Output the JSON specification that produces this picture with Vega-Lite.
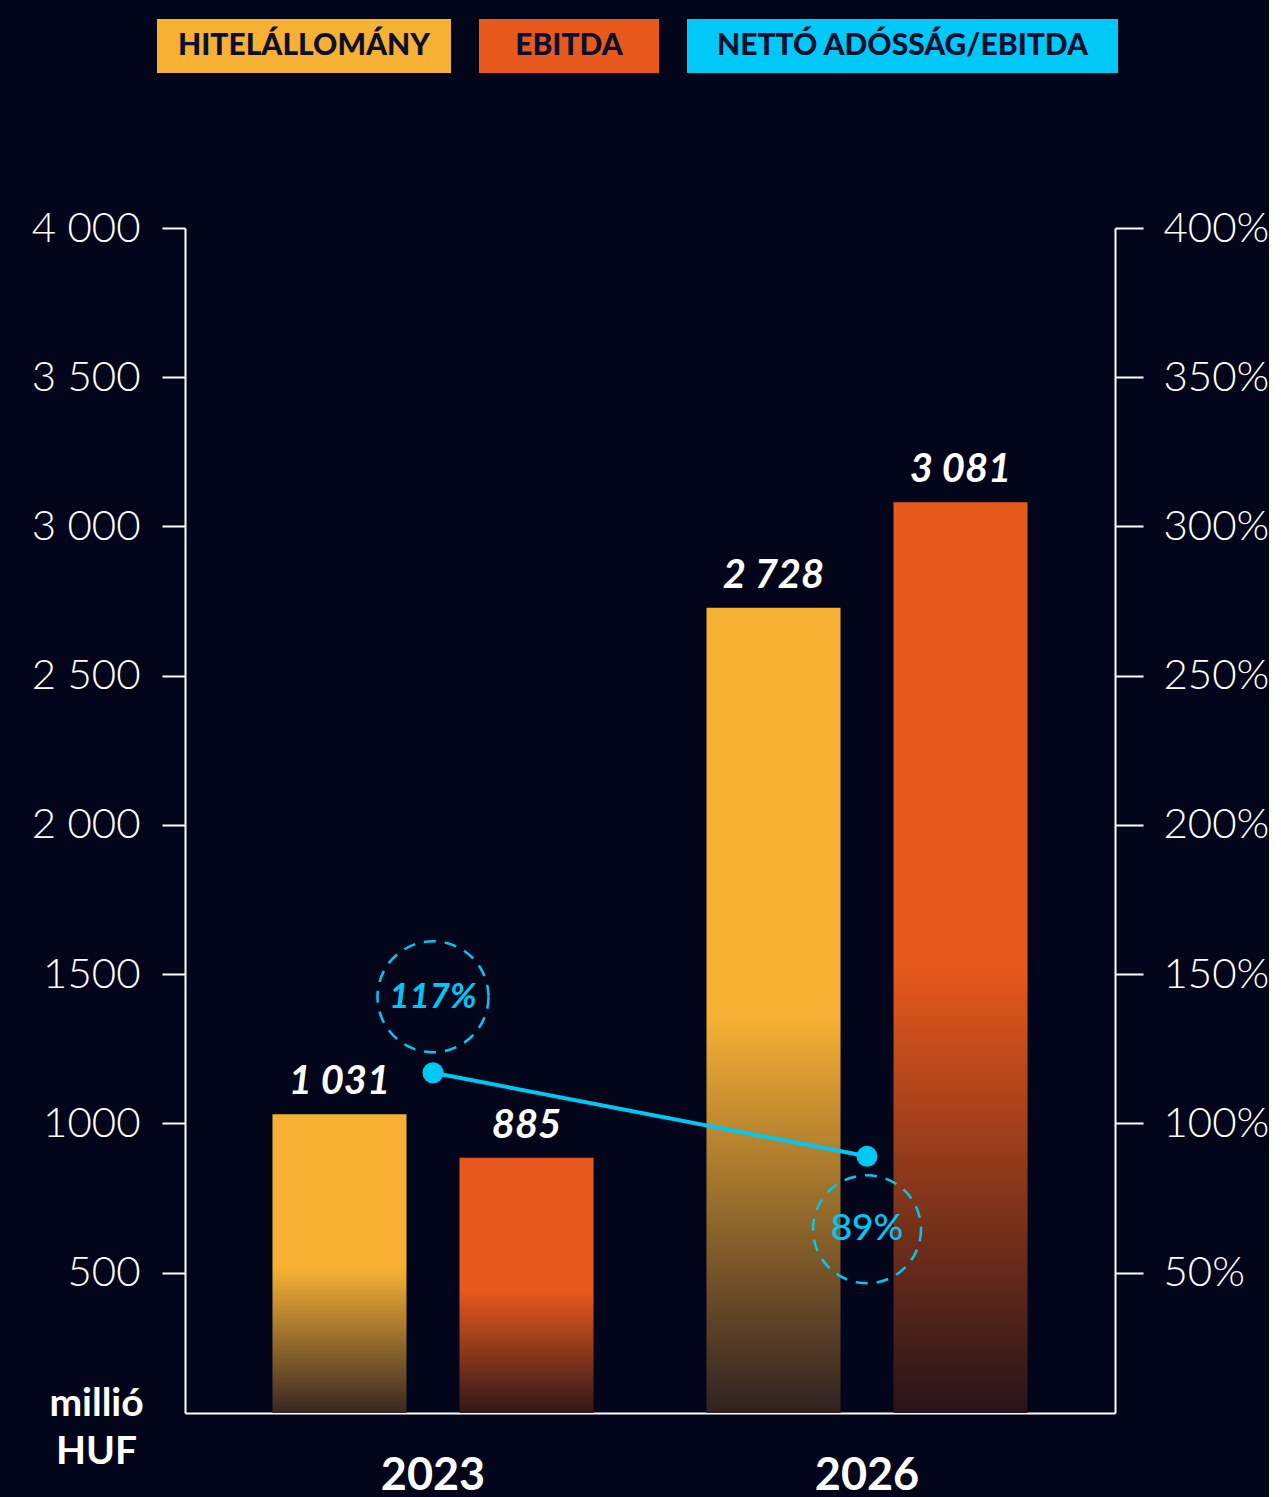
{
  "$schema": "https://vega.github.io/schema/vega-lite/v6.json",
  "background": "#03061A",
  "padding": {"top": 19, "left": 10, "right": 0, "bottom": 0},
  "config": {
    "view": {"stroke": null},
    "font": "Lato",
    "locale": {"number": {"decimal": ",", "thousands": " ", "grouping": [3], "currency": ["", ""]}}
  },
  "datasets": {
    "bars": [
      {"year": "2023", "series": "HITELÁLLOMÁNY", "value": 1031},
      {"year": "2023", "series": "EBITDA", "value": 885},
      {"year": "2026", "series": "HITELÁLLOMÁNY", "value": 2728},
      {"year": "2026", "series": "EBITDA", "value": 3081}
    ],
    "ratio": [
      {"year": "2023", "ratio": 1.17},
      {"year": "2026", "ratio": 0.89}
    ]
  },
  "spacing": 134,
  "vconcat": [
    {
      "spacing": 28,
      "hconcat": [
        {"width": 119, "height": 54, "data": {"values": [{"label": ""}]}, "mark": {"type": "text"}, "encoding": {"text": {"field": "label"}}},
        {"width": 294, "height": 54, "view": {"fill": "#F6B134", "stroke": null}, "data": {"values": [{"label": "HITELÁLLOMÁNY"}]}, "mark": {"type": "text", "font": "Lato", "fontSize": 30, "fontWeight": 900, "color": "#0B1030"}, "encoding": {"text": {"field": "label"}}},
        {"width": 180, "height": 54, "view": {"fill": "#E8591D", "stroke": null}, "data": {"values": [{"label": "EBITDA"}]}, "mark": {"type": "text", "font": "Lato", "fontSize": 30, "fontWeight": 900, "color": "#0B1030"}, "encoding": {"text": {"field": "label"}}},
        {"width": 431, "height": 54, "view": {"fill": "#00C9F8", "stroke": null}, "data": {"values": [{"label": "NETTÓ ADÓSSÁG/EBITDA"}]}, "mark": {"type": "text", "font": "Lato", "fontSize": 30, "fontWeight": 900, "color": "#0B1030"}, "encoding": {"text": {"field": "label"}}}
      ]
    },
    {
      "spacing": 20,
      "hconcat": [
        {"width": 1, "height": 10, "data": {"values": [{"label": ""}]}, "mark": {"type": "text"}, "encoding": {"text": {"field": "label"}}},
        {
          "width": 930,
          "height": 1185,
          "encoding": {
            "x": {"field": "year", "type": "nominal", "title": null,
              "scale": {"paddingInner": 0, "paddingOuter": 0.0714},
              "axis": {"orient": "bottom", "domainColor": "#FFFFFF", "domainWidth": 2, "ticks": false, "labelColor": "#FFFFFF", "labelFont": "Lato", "labelFontSize": 45, "labelFontWeight": "bold", "labelAngle": 0, "labelPadding": 40, "grid": false}}
          },
          "layer": [
            {
              "data": {"name": "bars"},
              "encoding": {
                "y": {"field": "value", "type": "quantitative",
                  "scale": {"domain": [30, 4000], "zero": false, "nice": false},
                  "axis": {"orient": "left", "values": [500, 1000, 1500, 2000, 2500, 3000, 3500, 4000],
                    "labelExpr": "datum.value < 2000 ? format(datum.value, 'd') : format(datum.value, ',')",
                    "domainColor": "#FFFFFF", "domainWidth": 2, "tickColor": "#FFFFFF", "tickWidth": 2, "tickSize": 23,
                    "labelColor": "#FFFFFF", "labelFont": "Lato", "labelFontSize": 42, "labelFontWeight": 300, "labelPadding": 22,
                    "grid": false, "labelFlush": false, "labelOverlap": false,
                    "title": ["millió", "HUF"], "titleAngle": 0, "titleX": -89, "titleY": 1187, "titleAlign": "center", "titleBaseline": "alphabetic",
                    "titleFont": "Lato", "titleFontSize": 39, "titleFontWeight": "bold", "titleColor": "#FFFFFF", "titleLineHeight": 48}}
              },
              "layer": [
                {
                  "data": {"values": [{"year": "2026"}]},
                  "mark": {"type": "rule", "color": "#FFFFFF", "strokeWidth": 2, "strokeDash": [26, 27]},
                  "encoding": {
                    "x": {"field": "year", "type": "nominal", "bandPosition": 0, "title": null,
                      "axis": {"orient": "bottom", "domainColor": "#FFFFFF", "domainWidth": 2, "ticks": false, "labelColor": "#FFFFFF", "labelFont": "Lato", "labelFontSize": 45, "labelFontWeight": "bold", "labelAngle": 0, "labelPadding": 40, "grid": false}},
                    "y": {"datum": 4000, "type": "quantitative"},
                    "y2": {"datum": -255}
                  }
                },
                {
                  "transform": [{"filter": "datum.series == 'HITELÁLLOMÁNY'"}],
                  "mark": {"type": "bar", "clip": true,
                    "fill": {"gradient": "linear", "x1": 0, "y1": 0, "x2": 0, "y2": 1,
                      "stops": [{"offset": 0, "color": "#F6B134"}, {"offset": 0.5, "color": "#F6B134"}, {"offset": 1, "color": "#2B1E22"}]}},
                  "encoding": {
                    "xOffset": {"field": "series", "type": "nominal", "scale": {"domain": ["HITELÁLLOMÁNY", "EBITDA"], "paddingInner": 0.2834, "paddingOuter": 0.302}}
                  }
                },
                {
                  "transform": [{"filter": "datum.series == 'EBITDA'"}],
                  "mark": {"type": "bar", "clip": true,
                    "fill": {"gradient": "linear", "x1": 0, "y1": 0, "x2": 0, "y2": 1,
                      "stops": [{"offset": 0, "color": "#E8591D"}, {"offset": 0.5, "color": "#E8591D"}, {"offset": 1, "color": "#231219"}]}},
                  "encoding": {
                    "xOffset": {"field": "series", "type": "nominal", "scale": {"domain": ["HITELÁLLOMÁNY", "EBITDA"], "paddingInner": 0.2834, "paddingOuter": 0.302}}
                  }
                },
                {
                  "mark": {"type": "text", "baseline": "alphabetic", "dy": -20, "color": "#FFFFFF", "font": "Lato", "fontSize": 40, "fontWeight": "bold", "fontStyle": "italic"},
                  "encoding": {
                    "xOffset": {"field": "series", "type": "nominal", "scale": {"domain": ["HITELÁLLOMÁNY", "EBITDA"], "paddingInner": 0.2834, "paddingOuter": 0.302}},
                    "text": {"field": "value", "type": "quantitative", "format": ","}
                  }
                }
              ]
            },
            {
              "data": {"name": "ratio"},
              "encoding": {
                "y": {"field": "ratio", "type": "quantitative",
                  "scale": {"domain": [0.03, 4.0], "zero": false, "nice": false},
                  "axis": {"orient": "right", "values": [0.5, 1, 1.5, 2, 2.5, 3, 3.5, 4], "format": ".0%",
                    "domainColor": "#FFFFFF", "domainWidth": 2, "tickColor": "#FFFFFF", "tickWidth": 2, "tickSize": 28,
                    "labelColor": "#FFFFFF", "labelFont": "Lato", "labelFontSize": 42, "labelFontWeight": 300, "labelPadding": 20,
                    "grid": false, "labelFlush": false, "labelOverlap": false, "title": null}}
              },
              "layer": [
                {"mark": {"type": "line", "color": "#00C8F5", "strokeWidth": 4}, "encoding": {}},
                {"mark": {"type": "circle", "color": "#00C8F5", "opacity": 1, "size": 441}, "encoding": {}},
                {
                  "transform": [{"filter": "datum.year == '2023'"}],
                  "mark": {"type": "circle", "filled": false, "opacity": 1, "stroke": "#00C8F5", "strokeWidth": 2.5, "strokeDash": [12, 9], "size": 12321, "yOffset": -76},
                  "encoding": {}
                },
                {
                  "transform": [{"filter": "datum.year == '2023'"}],
                  "mark": {"type": "text", "dy": -76, "color": "#00C8F5", "font": "Lato", "fontSize": 35, "fontWeight": "bold", "fontStyle": "italic"},
                  "encoding": {"text": {"field": "ratio", "type": "quantitative", "format": ".0%"}}
                },
                {
                  "transform": [{"filter": "datum.year == '2026'"}],
                  "mark": {"type": "circle", "filled": false, "opacity": 1, "stroke": "#00C8F5", "strokeWidth": 2.5, "strokeDash": [12, 9], "size": 11664, "yOffset": 73},
                  "encoding": {}
                },
                {
                  "transform": [{"filter": "datum.year == '2026'"}],
                  "mark": {"type": "text", "dy": 73, "color": "#00C8F5", "font": "Lato", "fontSize": 37, "fontWeight": 500},
                  "encoding": {"text": {"field": "ratio", "type": "quantitative", "format": ".0%"}}
                }
              ]
            }
          ],
          "resolve": {"scale": {"y": "independent"}}
        }
      ]
    }
  ]
}
